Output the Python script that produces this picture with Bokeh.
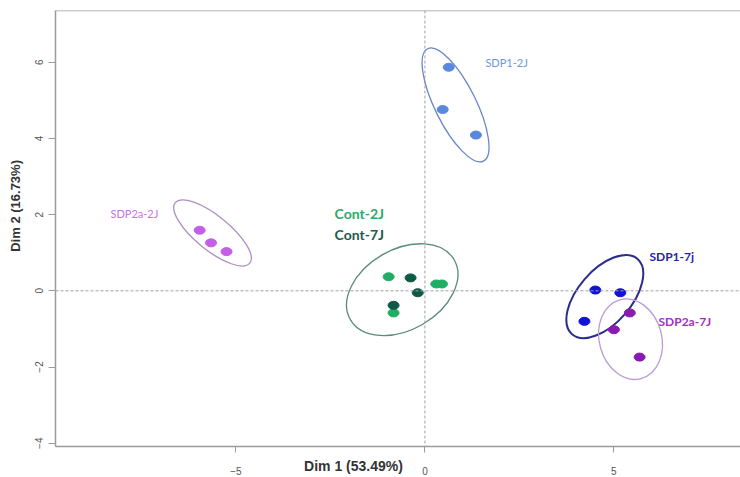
import math
from bokeh.plotting import figure
from bokeh.models import Span, Label, FixedTicker, Range1d, LinearAxis
from bokeh.embed import file_html
from bokeh.resources import INLINE

# ---- individuals (Dim 1, Dim 2) per group ----
sdp1_2j_x = [0.63, 0.47, 1.35]
sdp1_2j_y = [5.87, 4.76, 4.09]
sdp2a_2j_x = [-5.96, -5.66, -5.25]
sdp2a_2j_y = [1.59, 1.26, 1.03]
cont_2j_x = [-0.96, 0.30, 0.45, -0.83]
cont_2j_y = [0.37, 0.18, 0.18, -0.58]
cont_7j_x = [-0.38, -0.19, -0.83]
cont_7j_y = [0.34, -0.05, -0.38]
sdp1_7j_x = [4.51, 5.17, 4.22]
sdp1_7j_y = [0.02, -0.05, -0.80]
sdp2a_7j_x = [5.42, 5.00, 5.68]
sdp2a_7j_y = [-0.58, -1.02, -1.74]

# ---- confidence ellipses ----
ell_names = ["SDP1-2J", "SDP2a-2J", "Cont", "SDP1-7J", "SDP2a-7J"]
ell_cx = [0.81, -5.62, -0.60, 4.76, 5.44]
ell_cy = [4.88, 1.52, 0.03, -0.15, -1.27]
ell_major = [3.32, 2.54, 3.17, 2.64, 2.16]
ell_minor = [1.08, 0.90, 2.11, 1.40, 1.64]
ell_angle_deg = [116.4, 140.9, 30.0, 49.0, 105.0]

x_ticks = [-5, 0, 5]
y_ticks = [-4, -2, 0, 2, 4, 6]
x_title = "Dim 1 (53.49%)"
y_title = "Dim 2 (16.73%)"
x_title_pos = -1.89
y_title_pos = 2.23
y_top = 7.36

p = figure(width=740, height=477, output_backend="svg", toolbar_location=None,
           x_range=Range1d(-9.775, 8.35), y_range=Range1d(-4.087, y_top),
           min_border_left=55, min_border_right=0, min_border_top=10,
           min_border_bottom=30)
p.grid.visible = False
p.outline_line_color = None
p.background_fill_color = "white"
p.border_fill_color = "white"

axis_col = "#9a9a9a"
for ax in (p.xaxis[0], p.yaxis[0]):
    ax.axis_line_color = axis_col
    ax.axis_line_width = 1.5
    ax.major_tick_line_color = axis_col
    ax.minor_tick_line_color = None
    ax.major_tick_in = 0
    ax.major_label_text_font = "Liberation Sans"
    ax.major_label_text_font_size = "10px"
    ax.major_label_text_color = "#555555"
p.xaxis[0].ticker = FixedTicker(ticks=x_ticks)
p.yaxis[0].ticker = FixedTicker(ticks=y_ticks)
p.xaxis[0].major_tick_out = 6
p.xaxis[0].major_label_standoff = 14
p.yaxis[0].major_tick_out = 7
p.yaxis[0].major_label_standoff = 5
p.yaxis[0].major_label_orientation = "vertical"

title_style = dict(axis_line_color=None, major_tick_line_color=None,
                   minor_tick_line_color=None,
                   major_label_text_font="Liberation Sans",
                   major_label_text_font_style="bold",
                   major_label_text_color="#333333")

# y title as an outer left axis carrying one labelled position
ytitle_axis = LinearAxis(ticker=FixedTicker(ticks=[y_title_pos]),
                         major_label_overrides={y_title_pos: y_title},
                         major_label_standoff=3, major_label_orientation="vertical",
                         major_label_text_font_size="13px", **title_style)
p.add_layout(ytitle_axis, "left")

# x title as an outer bottom axis pulled up beside the tick labels
xtitle_axis = LinearAxis(ticker=FixedTicker(ticks=[x_title_pos]),
                         major_label_overrides={x_title_pos: x_title},
                         major_label_standoff=-20, major_tick_out=0, major_tick_in=0,
                         major_label_text_font_size="14px", **title_style)
p.add_layout(xtitle_axis, "below")

# top border
p.add_layout(Span(location=y_top, dimension="width", line_color=axis_col, line_width=1.5))

# reference lines
p.add_layout(Span(location=0, dimension="width", line_color="#a0a0a0", line_width=1, line_dash="3 2"))
p.add_layout(Span(location=0, dimension="height", line_color="#a0a0a0", line_width=1, line_dash="3 2"))

# ellipses
ell_colors = ["#6a86c8", "#ad90c4", "#5a8c76", "#2c2c8c", "#b99bd6"]
ell_widths = [1.3, 1.3, 1.3, 2.0, 1.3]
for cx, cy, w, h, a, c, lw in zip(ell_cx, ell_cy, ell_major, ell_minor, ell_angle_deg, ell_colors, ell_widths):
    p.ellipse(x=[cx], y=[cy], width=[w], height=[h], angle=[math.radians(a)],
              fill_color=None, line_color=c, line_width=lw)

# points
series = [
    (sdp1_2j_x, sdp1_2j_y, "#5a88dc"),
    (sdp2a_2j_x, sdp2a_2j_y, "#c25fe6"),
    (cont_2j_x, cont_2j_y, "#1fae66"),
    (cont_7j_x, cont_7j_y, "#0e5a47"),
    (sdp1_7j_x, sdp1_7j_y, "#1212d6"),
    (sdp2a_7j_x, sdp2a_7j_y, "#8a1ab2"),
]
for xs, ys, c in series:
    p.ellipse(x=xs, y=ys, width=11, height=8, width_units="screen", height_units="screen",
              fill_color=c, line_color=c)

# group labels
labels = [
    ("SDP1-2J", 1.60, 5.99, "#6b96dc", "normal", "11px"),
    ("SDP2a-2J", -8.32, 2.02, "#c870f0", "normal", "11px"),
    ("Cont-2J", -2.39, 2.04, "#2ea86a", "bold", "14px"),
    ("Cont-7J", -2.39, 1.49, "#1e5a4a", "bold", "14px"),
    ("SDP1-7j", 5.94, 0.89, "#2424a8", "bold", "12px"),
    ("SDP2a-7J", 6.18, -0.80, "#a030c0", "bold", "12px"),
]
for t, x, y, c, fs, sz in labels:
    p.add_layout(Label(x=x, y=y, text=t, text_color=c, text_font="Lato", text_font_style=fs,
                       text_font_size=sz, text_align="left", text_baseline="middle"))

open("out.html", "w").write(file_html(p, INLINE))
